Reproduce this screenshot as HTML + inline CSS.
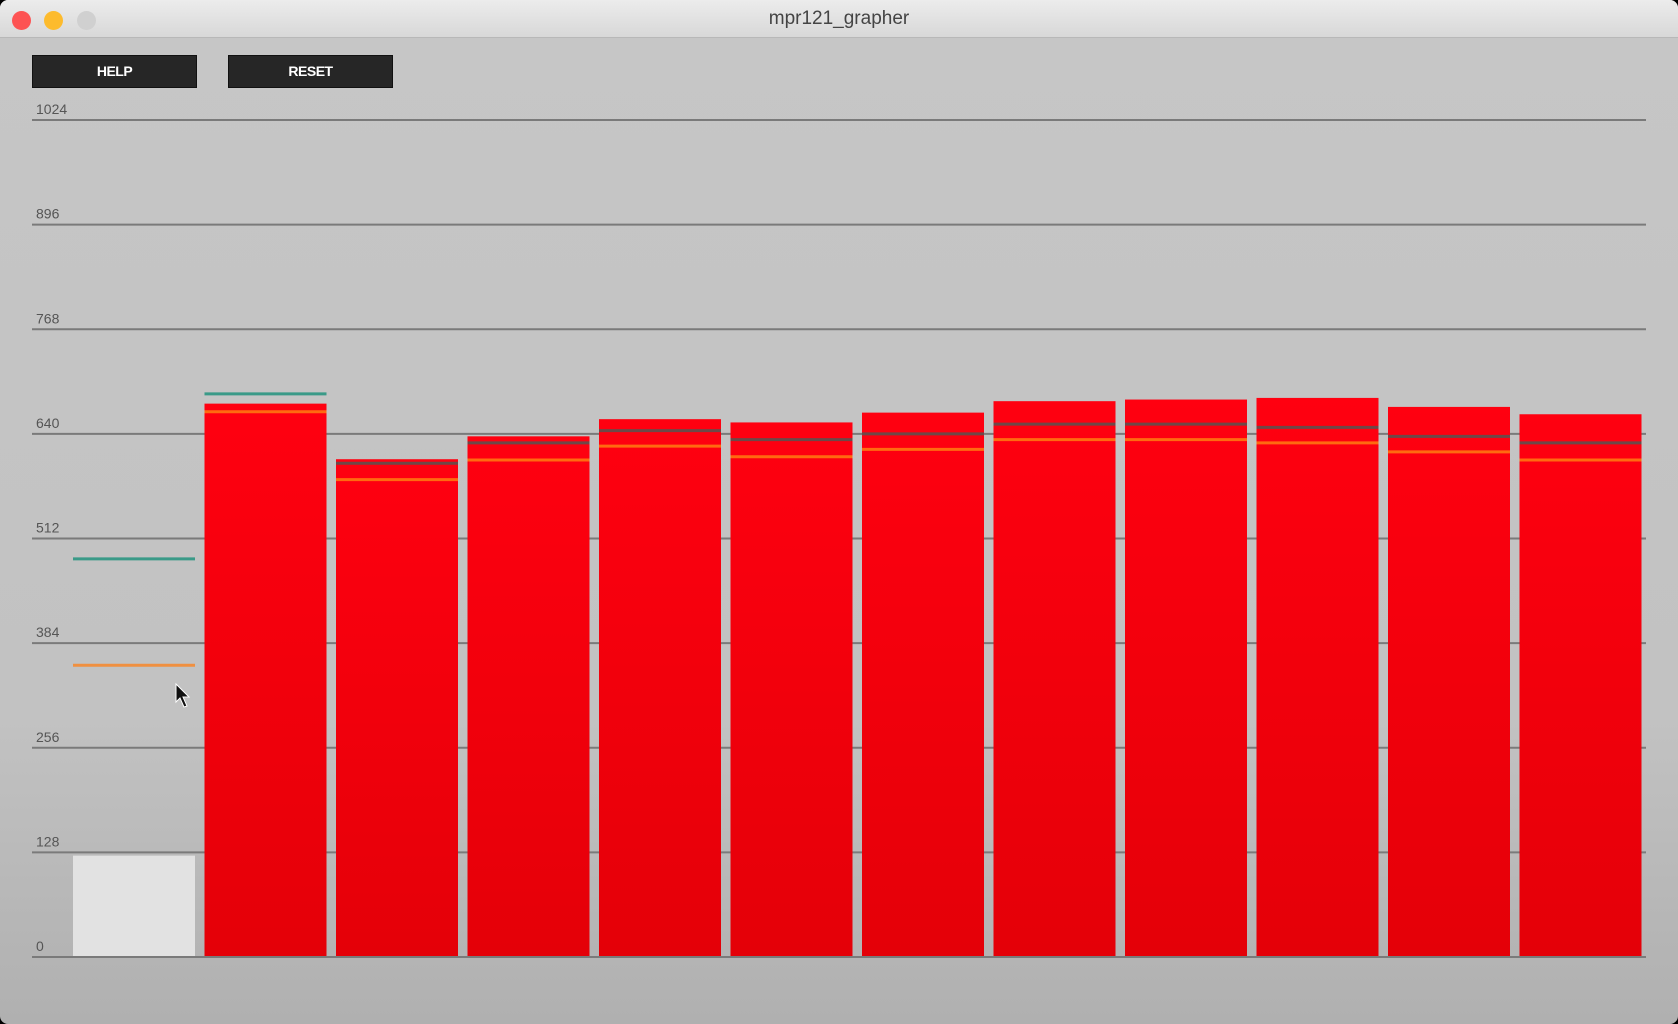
<!DOCTYPE html>
<html><head><meta charset="utf-8"><style>
html,body{margin:0;padding:0;width:1678px;height:1024px;overflow:hidden;background:#000;}
#win{position:absolute;left:0;top:0;width:1678px;height:1024px;border-radius:8px;overflow:hidden;background:linear-gradient(#c6c6c6,#c2c2c2 70%,#b0b0b0);}
#titlebar{position:absolute;left:0;top:0;width:1678px;height:37px;background:linear-gradient(#ececec,#d8d8d8);border-bottom:1px solid #b8b8b8;}
#title{position:absolute;left:0;width:100%;top:8px;text-align:center;font:19px "Liberation Sans",sans-serif;color:#444;}
.dot{position:absolute;top:11px;width:19px;height:19px;border-radius:50%;}
.btn{position:absolute;top:55px;height:31px;width:163px;background:#262626;border:1px solid #111;color:#fff;font:bold 14px "Liberation Sans",sans-serif;text-align:center;line-height:31px;letter-spacing:-0.5px;}
svg{position:absolute;left:0;top:0;}
</style></head><body>
<div id="win">
<div id="titlebar">
<div class="dot" style="left:12px;background:#fd5353"></div>
<div class="dot" style="left:44px;background:#fdbb2d"></div>
<div class="dot" style="left:77px;background:#d0d0d0"></div>
<div id="title">mpr121_grapher</div>
</div>
<div class="btn" style="left:32px">HELP</div>
<div class="btn" style="left:228px">RESET</div>
<svg id="chart" width="1678" height="1024">
<defs><linearGradient id="rg" x1="0" y1="0" x2="0" y2="1"><stop offset="0" stop-color="#ff0010"/><stop offset="1" stop-color="#e40008"/></linearGradient></defs>
</svg>
</div>
<script>
const ticks=[0,128,256,384,512,640,768,896,1024];
const filtered=[124,677,609,637,658,654,666,680,682,684,673,664];
const baseline=[487,689,604,629,644,633,640,652,652,648,637,629];
const threshold=[357,667,584,608,625,612,621,633,633,629,618,608];
const NS='http://www.w3.org/2000/svg';
const svg=document.getElementById('chart');
const y0=957,y1=120,x0=32,x1=1646,bx0=73,pitch=131.5,bw=122;
const Y=v=>y0-(v/1024)*(y0-y1);
const X=i=>bx0+i*pitch;
function mk(t,a){const e=document.createElementNS(NS,t);for(const k in a)e.setAttribute(k,a[k]);svg.appendChild(e);return e;}
ticks.forEach(t=>{
 const l=mk('line',{x1:x0,x2:x1,y1:Y(t),y2:Y(t),stroke:'#7a7a7a','stroke-width':2});
 
 
 const tx=mk('text',{x:36,y:Y(t)-6,'font-family':'Liberation Sans, sans-serif','font-size':14,fill:'#555'});
 tx.textContent=t;
 
 
});
filtered.forEach((v,i)=>{
 const r=mk('rect',{x:X(i),y:Y(v),width:bw,height:Y(0)-Y(v)-1,fill:i===0?'#e2e2e2':'url(#rg)'});
 
 
});
baseline.forEach((v,i)=>{
 const inside=v<filtered[i];
 const l=mk('line',{x1:X(i),x2:X(i)+bw,y1:Y(v),y2:Y(v),stroke:inside?'#6e4848':'#3a9a88','stroke-width':3});
 
 
});
threshold.forEach((v,i)=>{
 const inside=v<filtered[i];
 const l=mk('line',{x1:X(i),x2:X(i)+bw,y1:Y(v),y2:Y(v),stroke:inside?'#ff6a10':'#f09040','stroke-width':3});
 
 
});
const cur=mk('path',{d:'M176 684 l0 18 l4 -4 l4 9 l3 -1 l-4 -9 l6 0 z',fill:'#111',stroke:'#fff','stroke-width':1});


</script>
</body></html>
